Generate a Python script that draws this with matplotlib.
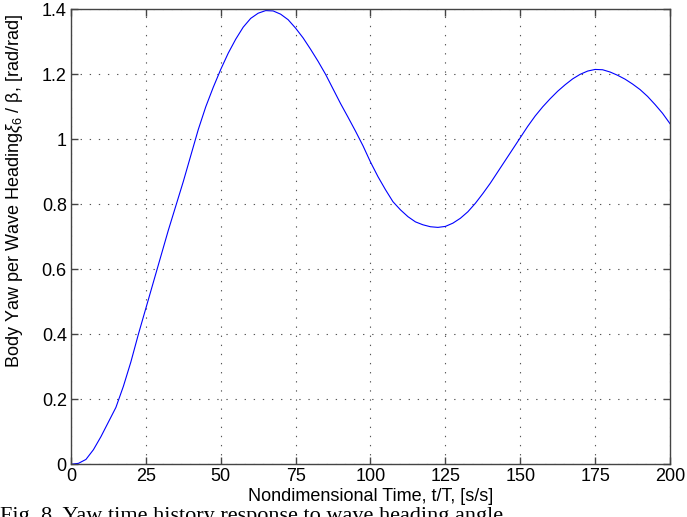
import matplotlib
matplotlib.use('Agg')
import matplotlib.pyplot as plt

# yaw response sampled every 2.5 time units
t = [i * 2.5 for i in range(81)]
yaw = [0.0, 0.003, 0.015, 0.045, 0.085, 0.13, 0.175, 0.24, 0.315, 0.40,
       0.48, 0.56, 0.64, 0.72, 0.795, 0.87, 0.95, 1.03, 1.10, 1.16,
       1.215, 1.265, 1.308, 1.345, 1.372, 1.388, 1.396, 1.395, 1.385, 1.368,
       1.342, 1.312, 1.277, 1.24, 1.20, 1.155, 1.11, 1.068, 1.025, 0.98,
       0.93, 0.885, 0.845, 0.808, 0.783, 0.762, 0.746, 0.737, 0.731, 0.729,
       0.732, 0.742, 0.757, 0.777, 0.803, 0.833, 0.865, 0.90, 0.935, 0.97,
       1.005, 1.04, 1.072, 1.10, 1.125, 1.148, 1.168, 1.186, 1.20, 1.21,
       1.215, 1.214, 1.207, 1.197, 1.185, 1.17, 1.153, 1.132, 1.107, 1.08,
       1.048]

xticks = [0, 25, 50, 75, 100, 125, 150, 175, 200]
yticks = [0, 0.2, 0.4, 0.6, 0.8, 1, 1.2, 1.4]
yticklabels = ['0', '0.2', '0.4', '0.6', '0.8', '1', '1.2', '1.4']

plt.rcParams['font.family'] = ['Liberation Sans', 'DejaVu Sans']
plt.rcParams['mathtext.fontset'] = 'custom'
plt.rcParams['mathtext.rm'] = 'Liberation Sans'
plt.rcParams['mathtext.it'] = 'Liberation Sans:italic'

fig = plt.figure(figsize=(6.87, 5.17), dpi=100)
ax = fig.add_axes([0.1033, 0.1019, 0.8720, 0.8801])

ax.plot(t, yaw, color='#0000ff', lw=0.8)

ax.set_xlim(0, 200)
ax.set_ylim(0, 1.4)
ax.set_xticks(xticks)
ax.set_yticks(yticks)
ax.set_yticklabels(yticklabels)
ax.tick_params(direction='in', length=5, width=1, color='#444444',
               top=True, right=True, labelsize=13, pad=3)
for s in ax.spines.values():
    s.set_color('#444444')
    s.set_linewidth(1)
ax.grid(True, color='#555555', linestyle=(0, (1.2, 7)), lw=0.8)

ax.set_xlabel('Nondimensional Time, t/T, [s/s]', fontsize=13, labelpad=2)
ax.set_ylabel(r'Body Yaw per Wave Heading$\xi_6$ / β, [rad/rad]', fontsize=13)
ax.yaxis.set_label_coords(-0.077, 0.6)

fig.text(0.0, 1 - 507 / 517, 'Fig. 8. Yaw time history response to wave heading angle',
         family='Liberation Serif', fontsize=16, va='top', ha='left')

fig.savefig('out.png', dpi=100)
